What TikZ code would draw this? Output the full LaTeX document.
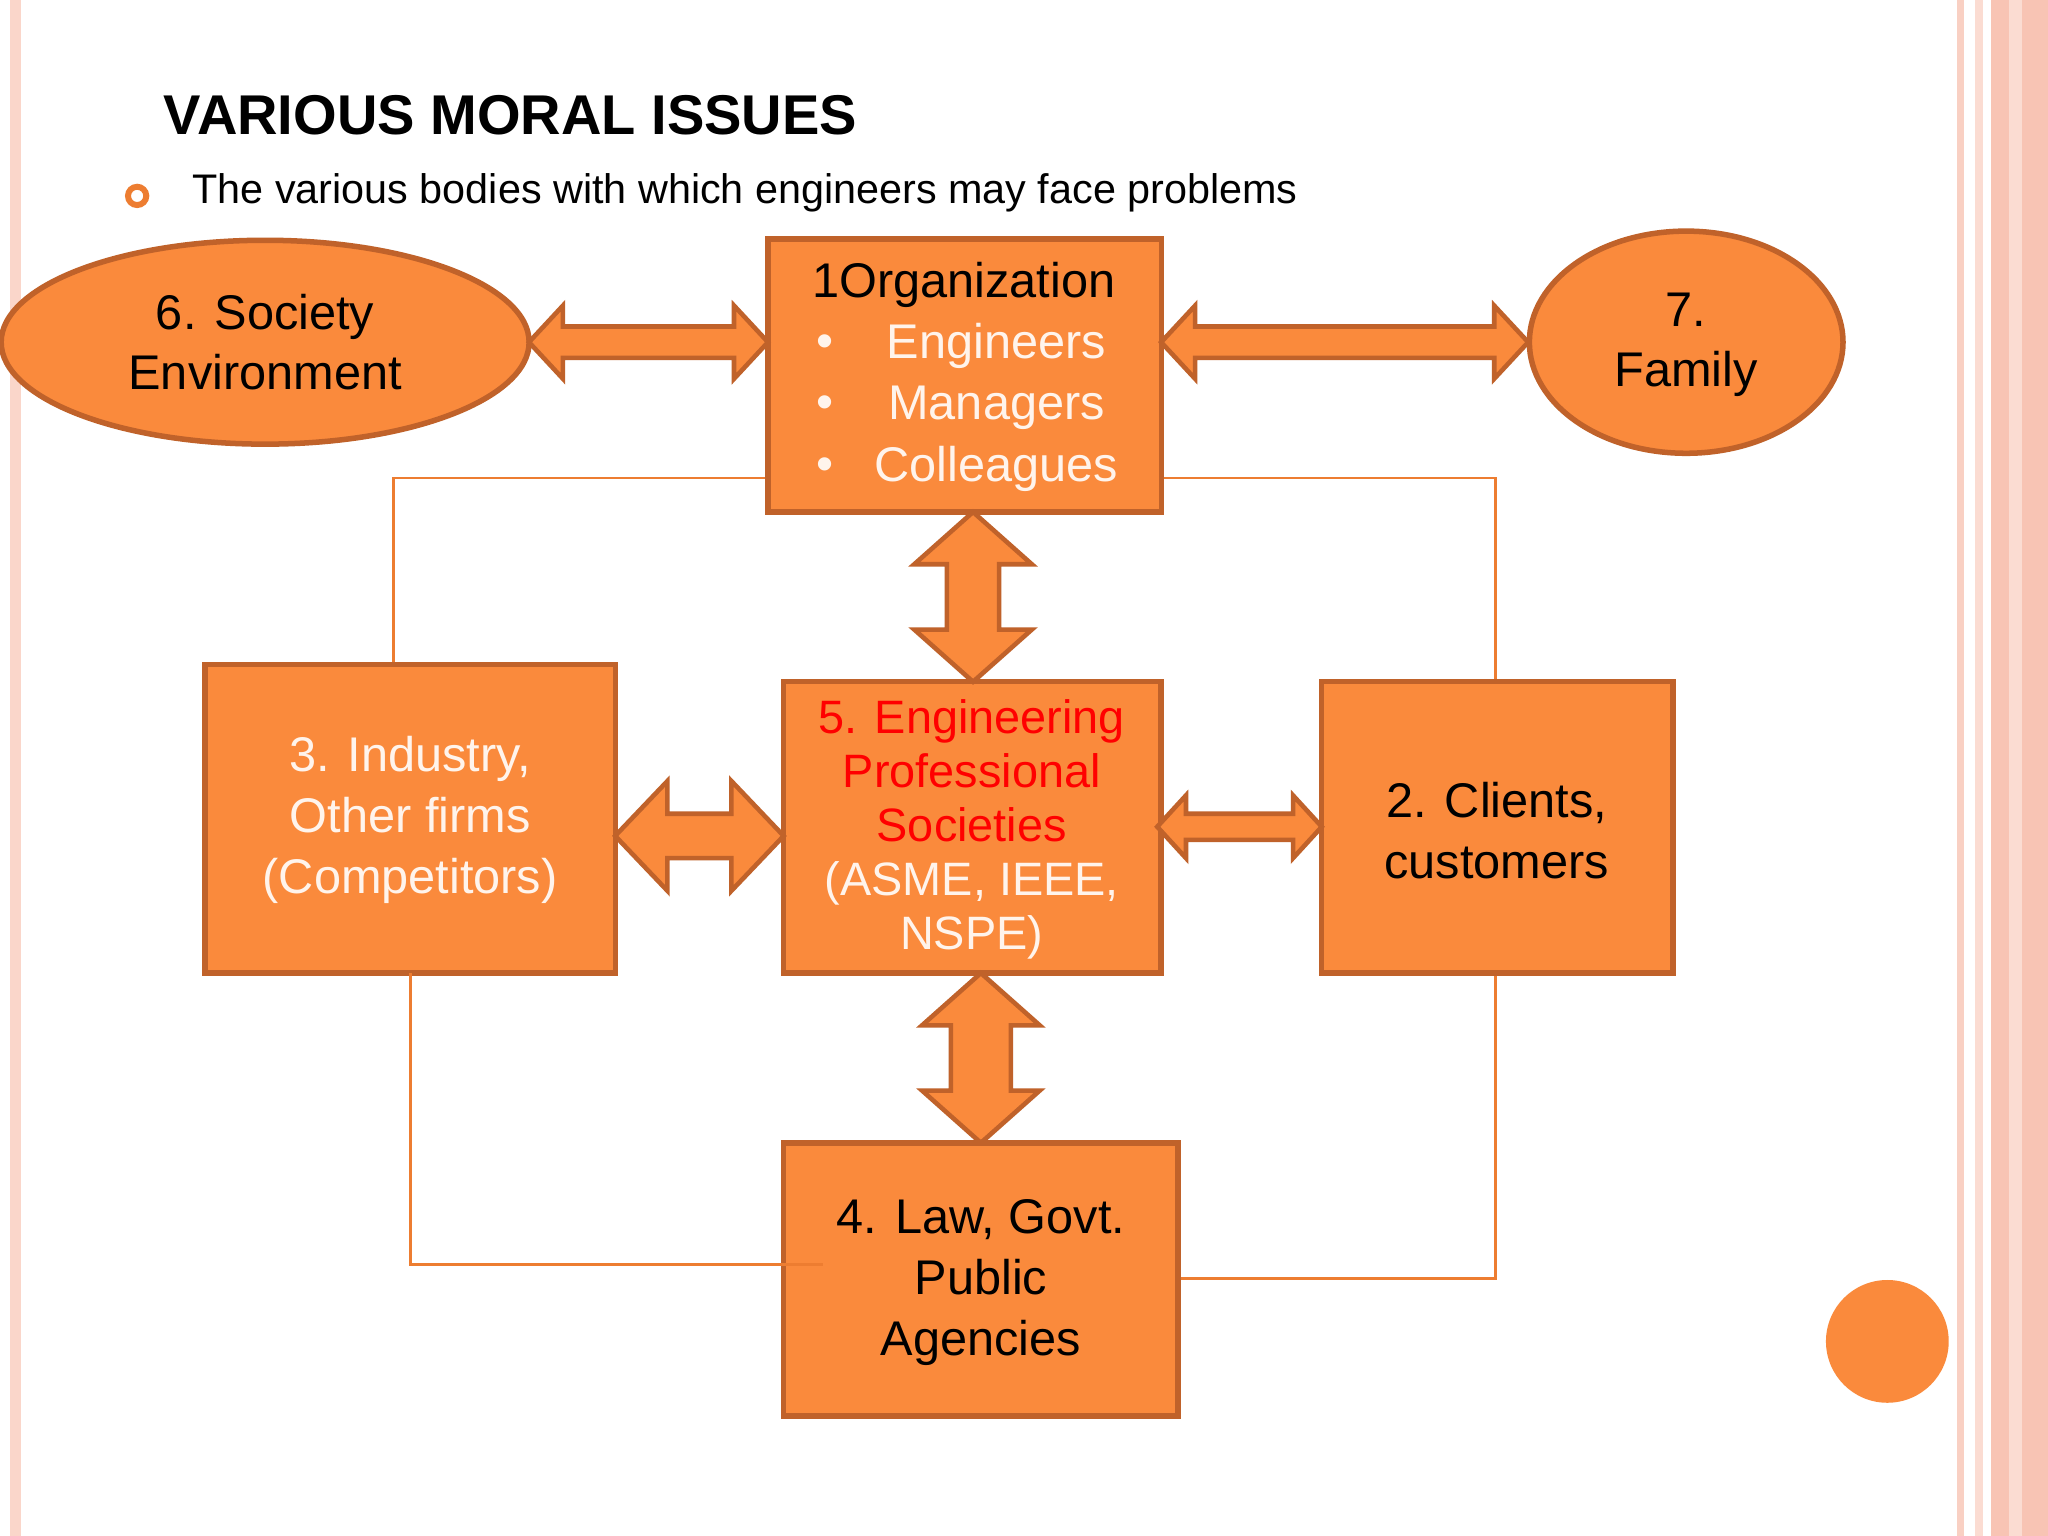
\documentclass[tikz,border=0pt]{standalone}
\usepackage{fontspec}
\setmainfont{Liberation Sans}
\usetikzlibrary{shapes.geometric}
\definecolor{ofill}{HTML}{FA8A3C}
\definecolor{oline}{HTML}{C0622A}
\definecolor{thin}{HTML}{ED7D31}
\definecolor{pk}{HTML}{F8C4B4}
\definecolor{txtw}{HTML}{FFF4EC}
\definecolor{rd}{HTML}{FF0000}
\tikzset{
 box/.style={draw=oline,fill=ofill,line width=1.2pt,inner sep=0},
 ell/.style={ellipse,draw=oline,fill=ofill,line width=1.2pt,inner sep=0},
 txt/.style={font=\fontsize{10.6}{13.2}\selectfont,align=center},
 conn/.style={draw=thin,line width=0.6pt},
 arr/.style={draw=oline,fill=ofill,line width=1pt,line join=miter}
}
\newcommand{\dah}[6]{% x1 x2 y shaft head headlen
 \path[arr] (#1,#3) -- (#1+#6,#3-#5) -- (#1+#6,#3-#4) -- (#2-#6,#3-#4) -- (#2-#6,#3-#5) -- (#2,#3) -- (#2-#6,#3+#5) -- (#2-#6,#3+#4) -- (#1+#6,#3+#4) -- (#1+#6,#3+#5) -- cycle;}
\newcommand{\dav}[6]{% y1 y2 x shaft head headlen
 \path[arr] (#3,#1) -- (#3-#5,#1+#6) -- (#3-#4,#1+#6) -- (#3-#4,#2-#6) -- (#3-#5,#2-#6) -- (#3,#2) -- (#3+#5,#2-#6) -- (#3+#4,#2-#6) -- (#3+#4,#1+#6) -- (#3+#5,#1+#6) -- cycle;}
\begin{document}
\begin{tikzpicture}[x=0.01cm,y=-0.01cm]
\path[use as bounding box,fill=white] (0,0) rectangle (1568,1176);
% decorative stripes
\fill[pk!70] (8,0) rectangle (16,1176);
\fill[pk!80] (1498,0) rectangle (1504,1176);
\fill[pk!60] (1512,0) rectangle (1518,1176);
\fill[pk] (1524,0) rectangle (1568,1176);
\fill[pk!60!white] (1538,0) rectangle (1548,1176);
% title
\node[anchor=west,font=\bfseries\fontsize{12.2}{14}\selectfont] (title) at (113,88) {VARIOUS MORAL ISSUES};
\node[circle,draw=thin,line width=1.3pt,minimum size=0.14cm,inner sep=0] (bul) at (105,150) {};
\node[anchor=west,font=\fontsize{9}{11}\selectfont] (sub) at (135,148) {The various bodies with which engineers may face problems};
% thin connectors (behind)
\coordinate (c1) at (301,366); \coordinate (c2) at (1145,366);
\coordinate (c3) at (314,968); \coordinate (c4) at (1145,979);
% shapes
\node[ell,minimum width=4.04cm,minimum height=1.56cm] (soc) at (203,262) {};
\node[ell,minimum width=2.4cm,minimum height=1.7cm] (fam) at (1291,262) {};
\node[box,minimum width=3.01cm,minimum height=2.09cm] (org) at (738.5,287.5) {};
\node[box,minimum width=3.14cm,minimum height=2.36cm] (ind) at (314,627) {};
\node[box,minimum width=2.89cm,minimum height=2.23cm] (eng) at (744.5,633.5) {};
\node[box,minimum width=2.69cm,minimum height=2.23cm] (cli) at (1146.5,633.5) {};
\node[box,minimum width=3.02cm,minimum height=2.09cm] (law) at (751,979.5) {};
% thin lines
\draw[conn] (org.west |- c1) -- (c1) -- (c1 |- ind.north);
\draw[conn] (org.east |- c2) -- (c2) -- (c2 |- cli.north);
\draw[conn] (ind.south |- 0,745) -- (c3) -- (630,968);
\draw[conn] (c4 |- cli.south) -- (c4) -- (law.east |- c4);
% double arrows
\dah{405}{588}{262}{12}{28}{26}
\dah{889}{1170}{262}{12}{28}{26}
\dav{392}{522}{745}{20}{45}{40}
\dah{471}{600}{640}{17}{42}{40}
\dah{886}{1012}{633}{10}{24}{22}
\dav{745}{875}{751}{23}{45}{40}
% texts
\node[txt] (tsoc) at (203,262) {6. Society\\Environment};
\node[txt] (tfam) at (1291,264) {7.\\Family};
\node[txt,anchor=center] (torg) at (738,218) {1Organization};
\foreach \y/\t in {265/Engineers,312/Managers,359/Colleagues}{
 \node[txt,text=txtw] at (632,\y) {•};
 \node[txt,text=txtw] at (763,\y) {\t};}
\node[txt,text=txtw,font=\fontsize{10.6}{13.3}\selectfont] (tind) at (314,628) {3. Industry,\\Other firms\\(Competitors)};
\node[txt,font=\fontsize{10.2}{11.8}\selectfont] (teng) at (744,635) {\textcolor{rd}{5. Engineering}\\\textcolor{rd}{Professional}\\\textcolor{rd}{Societies}\\\textcolor{txtw}{(ASME, IEEE,}\\\textcolor{txtw}{NSPE)}};
\node[txt] (tcli) at (1146,636) {2. Clients,\\customers};
\node[txt] (tlaw) at (751,982) {4. Law, Govt.\\Public\\Agencies};
% circle
\fill[ofill] (1445,1027) circle (47);
\end{tikzpicture}
\end{document}
